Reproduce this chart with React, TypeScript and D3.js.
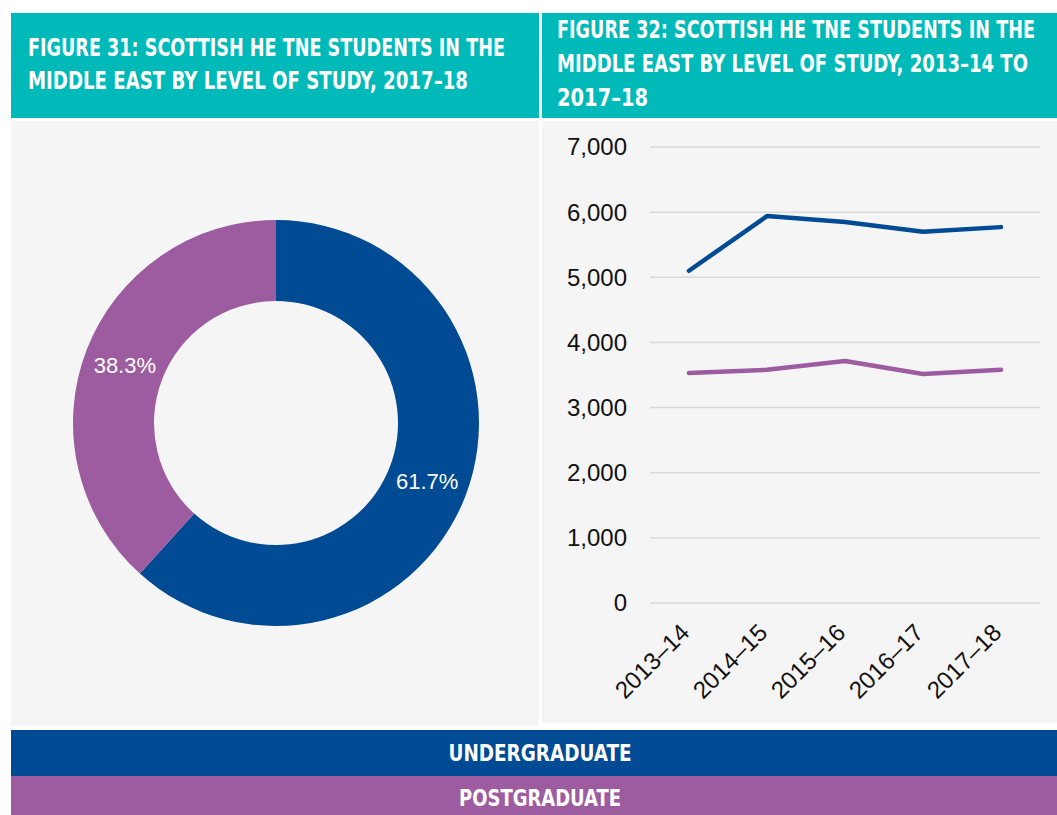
import React from "react";
import * as d3 from "d3";

const levels = ["Undergraduate", "Postgraduate"];
const shares = [61.7, 38.3];
const years = ["2013–14", "2014–15", "2015–16", "2016–17", "2017–18"];
const undergraduate = [5100, 5940, 5850, 5700, 5770];
const postgraduate = [3530, 3580, 3715, 3515, 3580];
const yTicks = [0, 1000, 2000, 3000, 4000, 5000, 6000, 7000];

const TEAL = "#00b9b9";
const BLUE = "#004b93";
const PURPLE = "#9c5c9f";
const BG = "#f5f5f5";
const TITLE_FONT = "'DejaVu Sans Condensed', 'DejaVu Sans', sans-serif";
const BODY_FONT = "'Liberation Sans', Arial, sans-serif";
const colors = [BLUE, PURPLE];

function TitleText(props: { x: number; y: number; w: number; t: string; size?: number; anchor?: string }) {
  const { x, y, w, t, size = 19, anchor = "start" } = props;
  return (
    <text
      transform={`translate(${x},${y}) scale(1,1.3)`}
      fill="#fff"
      fontFamily={TITLE_FONT}
      fontWeight="bold"
      fontSize={size}
      style={{ fontStretch: "condensed" }}
      textAnchor={anchor}
      textLength={w}
      lengthAdjust="spacingAndGlyphs"
    >
      {t}
    </text>
  );
}

export default function App() {
  const W = 1057, H = 815;

  // Donut
  const cx = 276, cy = 423, rOuter = 203, rInner = 122;
  const pie = d3.pie<number>().sort(null).value((d) => d)(shares);
  const arc = d3.arc<d3.PieArcDatum<number>>().innerRadius(rInner).outerRadius(rOuter);
  const labelArc = d3.arc<d3.PieArcDatum<number>>().innerRadius(162).outerRadius(162);

  // Line chart
  const x = d3.scaleBand<string>().domain(years).range([650, 1040]);
  const y = d3.scaleLinear().domain([0, 7000]).range([603, 147]);
  const line = d3
    .line<number>()
    .x((_, i) => (x(years[i]) as number) + x.bandwidth() / 2)
    .y((d) => y(d));
  const fmt = d3.format(",");

  const leftTitle = [
    { t: "FIGURE 31: SCOTTISH HE TNE STUDENTS IN THE", w: 477 },
    { t: "MIDDLE EAST BY LEVEL OF STUDY, 2017–18", w: 440 },
  ];
  const rightTitle = [
    { t: "FIGURE 32: SCOTTISH HE TNE STUDENTS IN THE", w: 478 },
    { t: "MIDDLE EAST BY LEVEL OF STUDY, 2013–14 TO", w: 471 },
    { t: "2017–18", w: 91 },
  ];

  return (
    <svg width={W} height={H} style={{ position: "absolute", left: 0, top: 0, display: "block" }}>
      <rect x={0} y={0} width={W} height={H} fill="#ffffff" />
      {/* headers */}
      <rect x={11} y={13} width={528} height={105} fill={TEAL} />
      <rect x={542} y={13} width={515} height={105} fill={TEAL} />
      {leftTitle.map((l, i) => (
        <TitleText key={i} x={28} y={56 + i * 33} w={l.w} t={l.t} />
      ))}
      {rightTitle.map((l, i) => (
        <TitleText key={i} x={557} y={38 + i * 34} w={l.w} t={l.t} />
      ))}
      {/* bodies */}
      <rect x={11} y={121} width={528} height={605} fill={BG} />
      <rect x={542} y={121} width={515} height={602} fill={BG} />

      {/* donut */}
      <g transform={`translate(${cx},${cy})`}>
        {pie.map((p, i) => (
          <path key={levels[i]} d={arc(p) as string} fill={colors[i]} />
        ))}
        {pie.map((p, i) => {
          const [lx, ly] = labelArc.centroid(p);
          return (
            <text key={"l" + i} x={lx} y={ly} dy="0.35em" textAnchor="middle" fill="#fff"
              fontFamily={BODY_FONT} fontSize={22}>
              {p.data.toFixed(1)}%
            </text>
          );
        })}
      </g>

      {/* line chart grid */}
      {yTicks.map((t) => (
        <g key={t}>
          <line x1={650} x2={1040} y1={y(t)} y2={y(t)} stroke="#d9d9d9" strokeWidth={1.5} />
          <text x={627} y={y(t)} dy="0.35em" textAnchor="end" fill="#111" fontFamily={BODY_FONT} fontSize={24}>
            {fmt(t)}
          </text>
        </g>
      ))}
      {years.map((yr) => {
        const px = (x(yr) as number) + x.bandwidth() / 2 + 2;
        return (
          <text key={yr} transform={`translate(${px},${634}) rotate(-45)`} textAnchor="end" fill="#111"
            fontFamily={BODY_FONT} fontSize={24}>
            {yr}
          </text>
        );
      })}
      <path d={line(undergraduate) as string} fill="none" stroke={BLUE} strokeWidth={4.5} strokeLinecap="round" strokeLinejoin="round" />
      <path d={line(postgraduate) as string} fill="none" stroke={PURPLE} strokeWidth={4.5} strokeLinecap="round" strokeLinejoin="round" />

      {/* legend bars */}
      <rect x={11} y={730} width={1046} height={46} fill={BLUE} />
      <rect x={11} y={776} width={1046} height={39} fill={PURPLE} />
      <TitleText x={540} y={761} w={183} t="UNDERGRADUATE" anchor="middle" size={18} />
      <TitleText x={540} y={806} w={162} t="POSTGRADUATE" anchor="middle" size={18} />
    </svg>
  );
}
